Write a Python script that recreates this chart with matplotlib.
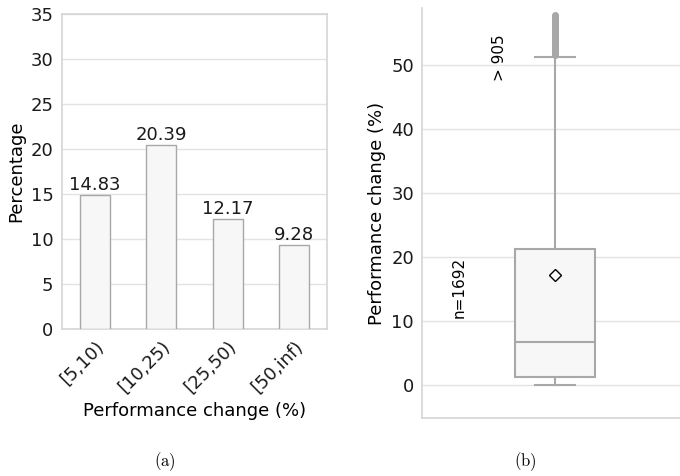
import matplotlib
matplotlib.use('Agg')
from matplotlib import pyplot as plt

# Data
bins = ['[5,10)', '[10,25)', '[25,50)', '[50,inf)']
percentages = [14.83, 20.39, 12.17, 9.28]

# Box stats (panel b)
box_stats = {
    'whislo': 0.0,
    'q1': 1.2,
    'med': 6.7,
    'mean': 17.2,
    'q3': 21.2,
    'whishi': 51.2,
    'fliers': [51.5, 51.8, 52.0, 52.3, 52.5, 52.7, 53.0, 53.2, 53.4, 53.7,
               54.0, 54.2, 54.5, 54.8, 55.0, 55.3, 55.5, 55.8, 56.0, 56.3,
               56.5, 56.8, 57.0, 57.2, 57.5, 57.8],
    'label': '',
}
n_total = 1692
n_over = 905

plt.rcParams['font.family'] = 'DejaVu Sans'
plt.rcParams['mathtext.fontset'] = 'cm'

spine_c = '#d5d5d5'
grid_c = '#e3e3e3'
edge_c = '#a8a8a8'
fill_c = '#f7f7f7'
fs = 13

fig = plt.figure(figsize=(6.8, 4.76), dpi=100)

# (a) bar chart
ax1 = fig.add_axes([0.091, 0.309, 0.390, 0.662])
x = range(len(bins))
ax1.bar(x, percentages, width=0.45, color=fill_c, edgecolor=edge_c, linewidth=1, zorder=3)
for xi, v in zip(x, percentages):
    ax1.text(xi, v + 0.1, f'{v:.2f}', ha='center', va='bottom', fontsize=fs, color='#1a1a1a')
ax1.set_xlim(-0.5, 3.5)
ax1.set_ylim(0, 35)
ax1.set_yticks(range(0, 36, 5))
ax1.set_xticks(list(x))
ax1.set_xticklabels(bins, rotation=45, ha='right', rotation_mode='anchor')
ax1.set_xlabel('Performance change (%)', fontsize=fs)
ax1.set_ylabel('Percentage', fontsize=fs)
ax1.yaxis.grid(True, color=grid_c, linewidth=1, zorder=0)
ax1.set_axisbelow(True)
for s in ax1.spines.values():
    s.set_color(spine_c)
    s.set_linewidth(1.2)
ax1.tick_params(length=0, labelsize=fs, colors='#1a1a1a', pad=6)

# (b) box plot
ax2 = fig.add_axes([0.621, 0.122, 0.391, 0.861])
ax2.bxp([box_stats], positions=[0], widths=0.30, showmeans=True, patch_artist=True,
        boxprops=dict(facecolor=fill_c, edgecolor=edge_c, linewidth=1.5),
        medianprops=dict(color=edge_c, linewidth=1.5),
        whiskerprops=dict(color=edge_c, linewidth=1.5),
        capprops=dict(color=edge_c, linewidth=1.5),
        flierprops=dict(marker='o', markerfacecolor=edge_c, markeredgecolor=edge_c, markersize=4),
        meanprops=dict(marker='D', markerfacecolor='white', markeredgecolor='black', markersize=6))
ax2.set_xlim(-0.5, 0.5)
ax2.set_ylim(-5.2, 58.9)
ax2.set_yticks(range(0, 51, 10))
ax2.set_xticks([])
ax2.set_ylabel('Performance change (%)', fontsize=fs)
ax2.yaxis.grid(True, color=grid_c, linewidth=1, zorder=0)
ax2.set_axisbelow(True)
for s in ax2.spines.values():
    s.set_color(spine_c)
    s.set_linewidth(1.2)
ax2.spines['top'].set_visible(False)
ax2.spines['right'].set_visible(False)
ax2.tick_params(length=0, labelsize=fs, colors='#1a1a1a', pad=6)
ax2.text(-0.21, 51.2, f'> {n_over}', rotation=90, ha='center', va='center', fontsize=11)
ax2.text(-0.36, 15.2, f'n={n_total}', rotation=90, ha='center', va='center', fontsize=11)

# captions
fig.text(0.243, 0.03, r'$\mathrm{(a)}$', ha='center', va='center', fontsize=12)
fig.text(0.772, 0.03, r'$\mathrm{(b)}$', ha='center', va='center', fontsize=12)

fig.savefig('out.png', dpi=100)
